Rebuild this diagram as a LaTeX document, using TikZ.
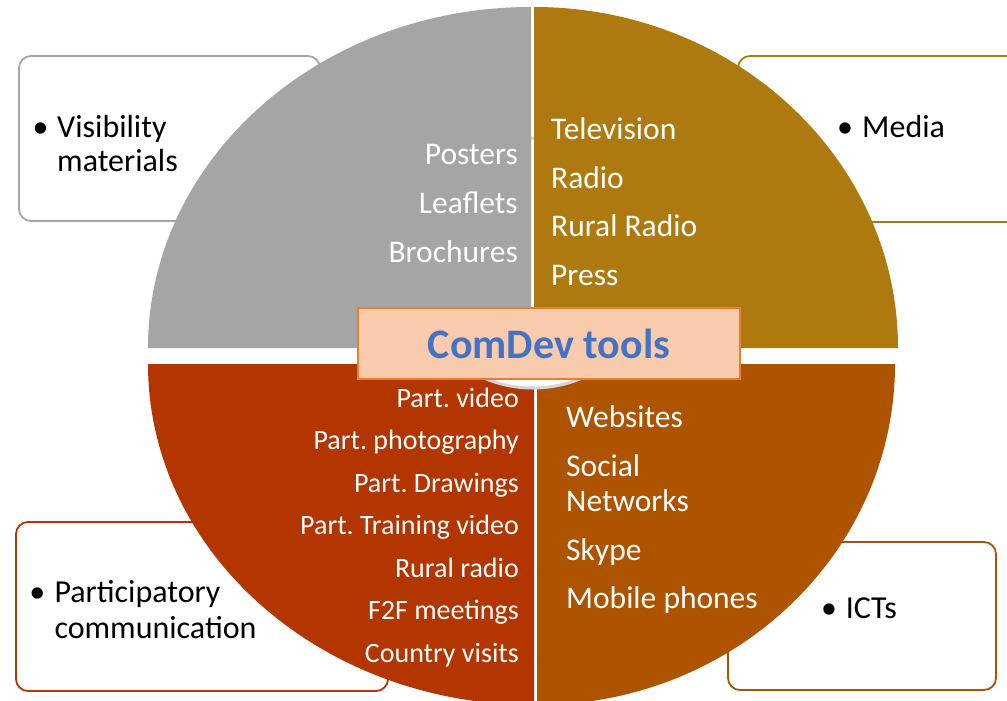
\documentclass[tikz,border=0pt]{standalone}
\usepackage{fontspec}
\setmainfont{Carlito}
\frenchspacing
\definecolor{qgray}{HTML}{A5A5A5}
\definecolor{qgold}{HTML}{AE7A0F}
\definecolor{qred}{HTML}{B33500}
\definecolor{qbrown}{HTML}{AE5300}
\definecolor{cfill}{HTML}{F8CBAD}
\definecolor{cedge}{HTML}{ED7D31}
\definecolor{ctext}{HTML}{4472C4}
\definecolor{ring}{HTML}{D6D6D6}
\begin{document}
\begin{tikzpicture}[x=1pt,y=-1pt,
  obox/.style={rectangle, rounded corners=12pt, line width=1.8pt, fill=white, inner sep=0pt},
  qtext/.style={font=\fontsize{31.5}{37}\selectfont, text=white, inner sep=0pt},
  rtext/.style={font=\fontsize{28}{33}\selectfont, text=white, inner sep=0pt, anchor=base east},
  btext/.style={font=\fontsize{32}{37}\selectfont, text=black, inner sep=0pt, anchor=base west},
  bul/.style={font=\fontsize{32}{37}\selectfont, text=black, inner sep=0pt, anchor=base}]
\useasboundingbox (0,0) rectangle (1007,701);
\clip (0,0) rectangle (1007,701);
% outer boxes
\node[obox, draw=qgray, minimum width=301pt, minimum height=165pt] (visbox) at (169.5,138.5) {};
\node[obox, draw=qgold, minimum width=292pt, minimum height=166pt] (medbox) at (884,139) {};
\node[obox, draw=qred, minimum width=372pt, minimum height=169pt] (parbox) at (202,606.5) {};
\node[obox, draw=qbrown, minimum width=268pt, minimum height=148pt] (ictbox) at (862,616) {};
% bottom quadrants
\fill[qred] (534,364) -- (148,364) arc[start angle=180, end angle=90, x radius=386, y radius=341] -- cycle;
\fill[qbrown] (537,364) -- (895,364) arc[start angle=0, end angle=90, x radius=358, y radius=341] -- cycle;
% ring behind centre box
\draw[ring, line width=3pt, fill=white] (533,263) circle[radius=125];
% top quadrants
\fill[qgray] (531,348) -- (148,348) arc[start angle=180, end angle=270, x radius=383, y radius=341] -- cycle;
\fill[qgold] (534,348) -- (534,7) arc[start angle=270, end angle=360, x radius=364, y radius=341] -- cycle;
% centre box
\node[rectangle, fill=cfill, draw=cedge, line width=2pt, minimum width=382pt, minimum height=71pt,
  font=\fontsize{42}{48}\selectfont\bfseries, text=ctext] (title) at (549,343.5) {ComDev tools};
% grey quadrant texts
\node[qtext, anchor=base east] (g1) at (518,164) {Posters};
\node[qtext, anchor=base east] (g2) at (518,213) {Leaflets};
\node[qtext, anchor=base east] (g3) at (518,262) {Brochures};
% gold quadrant texts
\node[qtext, anchor=base west] (m1) at (551,139) {Television};
\node[qtext, anchor=base west] (m2) at (551,188) {Radio};
\node[qtext, anchor=base west] (m3) at (551,236.5) {Rural Radio};
\node[qtext, anchor=base west] (m4) at (551,285) {Press};
% red quadrant texts
\node[rtext] (r1) at (519,407) {Part. video};
\node[rtext] (r2) at (519,449.5) {Part. photography};
\node[rtext] (r3) at (519,492) {Part. Drawings};
\node[rtext] (r4) at (519,534.5) {Part. Training video};
\node[rtext] (r5) at (519,577) {Rural radio};
\node[rtext] (r6) at (519,619.5) {F2F meetings};
\node[rtext] (r7) at (519,662) {Country visits};
% brown quadrant texts
\node[qtext, anchor=base west] (i1) at (566,427) {Websites};
\node[qtext, anchor=base west] (i2) at (566,476.5) {Social};
\node[qtext, anchor=base west] (i3) at (566,511) {Networks};
\node[qtext, anchor=base west] (i4) at (566,560) {Skype};
\node[qtext, anchor=base west] (i5) at (566,608.5) {Mobile phones};
% outer box texts
\node[bul] (vb) at (40.7,137) {•};
\node[btext] (v1) at (57,137) {Visibility};
\node[btext] (v2) at (57,171.5) {materials};
\node[bul] (mb) at (845,137) {•};
\node[btext] (md) at (862,137) {Media};
\node[bul] (pb) at (37.3,602.7) {•};
\node[btext] (p1) at (54.3,602.7) {Participatory};
\node[btext] (p2) at (54.3,638.3) {communication};
\node[bul] (ib) at (829,618.3) {•};
\node[btext] (ic) at (845.7,618.3) {ICTs};
\end{tikzpicture}
\end{document}
